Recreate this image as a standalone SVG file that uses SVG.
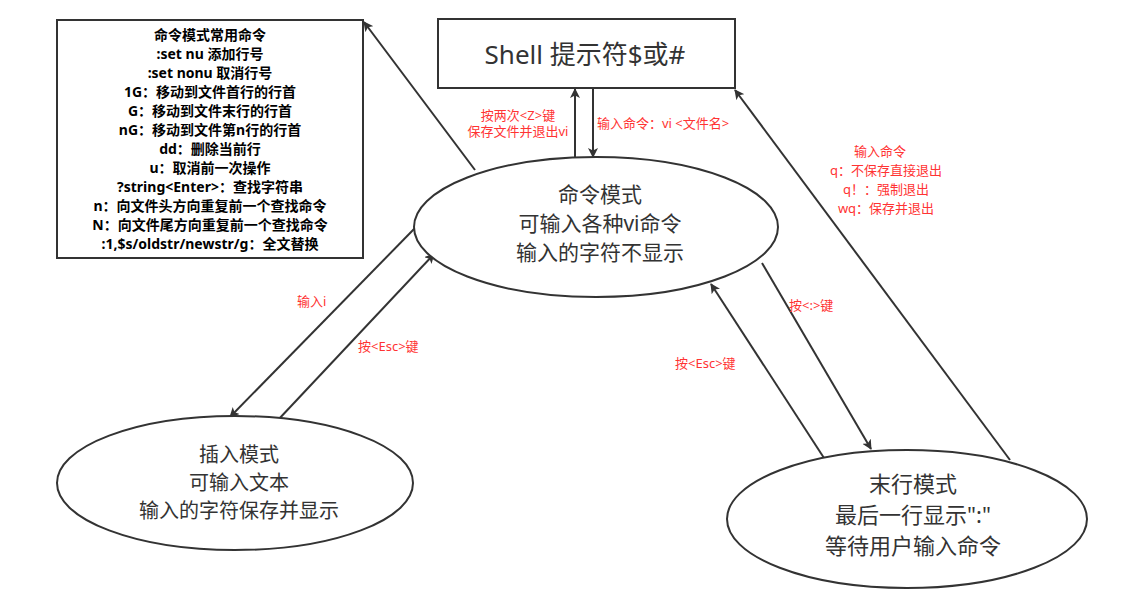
<svg xmlns="http://www.w3.org/2000/svg" width="1141" height="603" viewBox="0 0 1141 603">
<defs>
<marker id="arr" markerWidth="10" markerHeight="10" refX="9" refY="5" orient="auto" markerUnits="userSpaceOnUse" viewBox="0 0 10 10">
<path d="M0,0 L10,5 L0,10 L2.5,5 Z" fill="#333"/>
</marker>
<style>
.shape{fill:#fff;stroke:#333;stroke-width:2}
.edge{stroke:#333;stroke-width:2;fill:none;marker-end:url(#arr)}
.t{font-family:"Noto Sans","Noto Sans CJK SC",sans-serif;fill:#333;text-anchor:middle}
.box{font-family:"Noto Sans","Noto Sans CJK SC",sans-serif;font-weight:bold;font-size:14px;fill:#000;text-anchor:middle}
.r{font-family:"Noto Sans","Noto Sans CJK SC",sans-serif;font-size:13px;fill:#ff3333}
.rc{text-anchor:middle}
</style>
</defs>
<rect width="1141" height="603" fill="#fff"/>
<g id="connectors">
<line class="edge" x1="575" y1="157" x2="575" y2="89"/>
<line class="edge" x1="593" y1="88" x2="593" y2="157"/>
<line class="edge" x1="475" y1="170" x2="364" y2="22"/>
<line class="edge" x1="1010" y1="460" x2="735" y2="90"/>
<line class="edge" x1="415" y1="228" x2="230" y2="417"/>
<line class="edge" x1="278" y1="420" x2="434" y2="254"/>
<line class="edge" x1="762" y1="263" x2="871" y2="449"/>
<line class="edge" x1="824" y1="458" x2="711" y2="284"/>
</g>
<g id="commands-box">
<rect class="shape" x="57" y="20" width="306" height="238"/>
<text class="box" x="210" y="40">命令模式常用命令</text>
<text class="box" x="210" y="59">:set nu  添加行号</text>
<text class="box" x="210" y="78">:set nonu 取消行号</text>
<text class="box" x="210" y="97">1G：移动到文件首行的行首</text>
<text class="box" x="210" y="116">G：移动到文件末行的行首</text>
<text class="box" x="210" y="135">nG：移动到文件第n行的行首</text>
<text class="box" x="210" y="154">dd：删除当前行</text>
<text class="box" x="210" y="173">u：取消前一次操作</text>
<text class="box" x="210" y="192">?string&lt;Enter&gt;：查找字符串</text>
<text class="box" x="210" y="211">n：向文件头方向重复前一个查找命令</text>
<text class="box" x="210" y="230">N：向文件尾方向重复前一个查找命令</text>
<text class="box" x="210" y="249">:1,$s/oldstr/newstr/g：全文替换</text>
</g>
<g id="shell">
<rect class="shape" x="438" y="19" width="297" height="69"/>
<text class="t" x="585" y="64" font-size="26">Shell 提示符$或#</text>
</g>
<g id="command-mode">
<ellipse class="shape" cx="596" cy="227" rx="182" ry="70"/>
<text class="t" x="600" y="202" font-size="21">命令模式</text>
<text class="t" x="600" y="231" font-size="21">可输入各种vi命令</text>
<text class="t" x="600" y="260" font-size="21">输入的字符不显示</text>
</g>
<g id="insert-mode">
<ellipse class="shape" cx="235" cy="483" rx="178" ry="67"/>
<text class="t" x="239" y="462" font-size="20">插入模式</text>
<text class="t" x="239" y="490" font-size="20">可输入文本</text>
<text class="t" x="239" y="518" font-size="20">输入的字符保存并显示</text>
</g>
<g id="lastline-mode">
<ellipse class="shape" cx="907" cy="519" rx="180" ry="69"/>
<text class="t" x="913" y="492" font-size="22">末行模式</text>
<text class="t" x="913" y="523" font-size="22">最后一行显示":"</text>
<text class="t" x="913" y="554" font-size="22">等待用户输入命令</text>
</g>
<g id="labels">
<text class="r rc" x="518" y="120">按两次&lt;Z&gt;键</text>
<text class="r rc" x="518" y="136">保存文件并退出vi</text>
<text class="r" x="597" y="128">输入命令：vi &lt;文件名&gt;</text>
<text class="r rc" x="880" y="156">输入命令</text>
<text class="r rc" x="886" y="175">q：不保存直接退出</text>
<text class="r rc" x="886" y="194">q！：强制退出</text>
<text class="r rc" x="886" y="213">wq：保存并退出</text>
<text class="r" x="297" y="306">输入i</text>
<text class="r" x="358" y="351">按&lt;Esc&gt;键</text>
<text class="r" x="789" y="310">按&lt;:&gt;键</text>
<text class="r" x="675" y="368">按&lt;Esc&gt;键</text>
</g>
</svg>
